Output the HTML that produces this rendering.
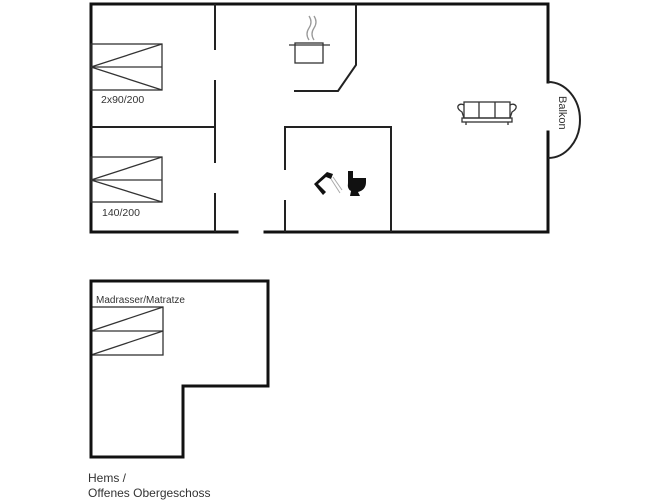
<!DOCTYPE html>
<html><head><meta charset="utf-8"><style>
html,body{margin:0;padding:0;background:#fff;}
svg{display:block;}
text{font-family:"Liberation Sans",sans-serif;fill:#333;}
</style></head><body>
<svg width="667" height="500" viewBox="0 0 667 500" xmlns="http://www.w3.org/2000/svg">
<g stroke="#111" stroke-width="3" fill="none" stroke-linecap="square">
<!-- outer -->
<polyline points="237,232 91,232 91,4 548,4 548,82"/>
<polyline points="548,132 548,232 265,232"/>
</g>
<g stroke="#222" stroke-width="2" fill="none">
<!-- Balkon arc -->
<path d="M548,82 A32,38 0 0 1 548,158"/>
<!-- interior walls -->
<line x1="215" y1="4" x2="215" y2="50"/>
<line x1="215" y1="80" x2="215" y2="163"/>
<line x1="215" y1="193" x2="215" y2="232"/>
<line x1="91" y1="127" x2="215" y2="127"/>
<polyline points="356,4 356,65 338,91 294,91"/>
<polyline points="285,170 285,127 391,127 391,232"/>
<line x1="285" y1="200" x2="285" y2="232"/>
</g>
<g stroke="#333" stroke-width="1.3" fill="none">
<rect x="91" y="44" width="71" height="46"/>
<line x1="91" y1="67" x2="162" y2="67"/>
<line x1="91" y1="67" x2="162" y2="44"/>
<line x1="91" y1="67" x2="162" y2="90"/>
<rect x="91" y="157" width="71" height="45"/>
<line x1="91" y1="180" x2="162" y2="180"/>
<line x1="91" y1="180" x2="162" y2="157"/>
<line x1="91" y1="180" x2="162" y2="202"/>
<!-- pot -->
<rect x="295" y="43" width="28" height="20"/>
<line x1="289" y1="45" x2="330" y2="45"/>
<path d="M309,40 q-4,-6 0,-12 q4,-6 0,-12" stroke="#999"/>
<path d="M314,40 q-4,-6 0,-12 q4,-6 0,-12" stroke="#999"/>
<!-- sofa -->
<rect x="464" y="102" width="46" height="16"/>
<line x1="479" y1="102" x2="479" y2="118"/>
<line x1="495" y1="102" x2="495" y2="118"/>
<path d="M464,118 L462,112 q-5,-3 -4,-6 q2,-3 6,-1 M510,118 L512,112 q5,-3 4,-6 q-2,-3 -6,-1"/>
<rect x="462" y="118" width="50" height="4"/>
<line x1="466" y1="122" x2="466" y2="125"/><line x1="508" y1="122" x2="508" y2="125"/>
<!-- lower mattresses -->
<rect x="91" y="307" width="72" height="48"/>
<line x1="91" y1="331" x2="163" y2="331"/>
<line x1="91" y1="331" x2="163" y2="307"/>
<line x1="91" y1="355" x2="163" y2="331"/>
</g>
<!-- bathroom icons -->
<g fill="#111">
<path d="M314,184 L327,172 L333,174 L331,179 L326,177 L318,184 L326,192 L323,195 Z"/>
<path d="M348,171 h5 v7 h13 v4 q0,8 -8,10 l2,4 h-10 l1,-5 q-4,-2 -3,-8 Z"/>
</g>
<g stroke="#aaa" stroke-width="1"><line x1="331" y1="179" x2="340" y2="193"/><line x1="333" y1="177" x2="342" y2="190"/></g>
<!-- lower L -->
<polygon points="91,281 268,281 268,386 183,386 183,457 91,457" stroke="#111" stroke-width="3" fill="none"/>
<text x="101" y="103" font-size="10.5">2x90/200</text>
<text x="102" y="216" font-size="10.5">140/200</text>
<text x="96" y="303" font-size="10">Madrasser/Matratze</text>
<text x="88" y="482" font-size="12">Hems /</text>
<text x="88" y="497" font-size="12">Offenes Obergeschoss</text>
<text transform="translate(559,96) rotate(90)" font-size="11">Balkon</text>
</svg>
</body></html>
